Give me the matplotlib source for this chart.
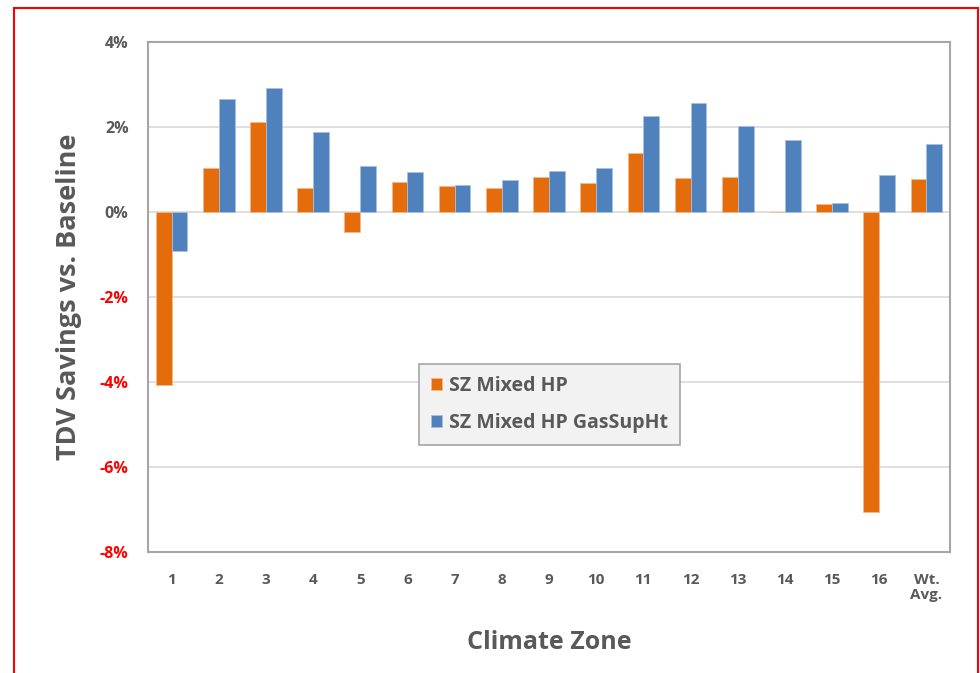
import matplotlib
matplotlib.use("Agg")
import matplotlib.pyplot as plt
from matplotlib.patches import Rectangle
import numpy as np

plt.rcParams['font.family'] = ['Open Sans', 'DejaVu Sans']

zones = ["1", "2", "3", "4", "5", "6", "7", "8", "9", "10", "11", "12",
         "13", "14", "15", "16", "Wt.\nAvg."]
mixed_hp = [-4.07, 1.04, 2.12, 0.57, -0.47, 0.71, 0.61, 0.57, 0.82, 0.68,
            1.38, 0.80, 0.83, 0.01, 0.19, -7.05, 0.77]
mixed_hp_gas = [-0.92, 2.66, 2.92, 1.88, 1.08, 0.94, 0.64, 0.76, 0.97, 1.03,
                2.27, 2.57, 2.02, 1.69, 0.22, 0.88, 1.61]
series_names = ["SZ Mixed HP", "SZ Mixed HP GasSupHt"]
yticks = [4, 2, 0, -2, -4, -6, -8]

gray_text = "#595959"
orange = "#E46C0A"
blue = "#4F81BD"

W, H = 980, 673
fig = plt.figure(figsize=(W / 100, H / 100), dpi=100)
ax = fig.add_axes([148 / W, (H - 552) / H, (950 - 148) / W, (552 - 42) / H])

x = np.arange(len(zones))
bw = 0.335
ax.bar(x - bw / 2, mixed_hp, bw, color=orange, edgecolor="#F5B888",
       linewidth=0.6, label=series_names[0], zorder=3)
ax.bar(x + bw / 2, mixed_hp_gas, bw, color=blue, edgecolor="#A9C1E0",
       linewidth=0.6, label=series_names[1], zorder=3)

ax.set_xlim(-0.5, len(zones) - 0.5)
ax.set_ylim(-8, 4)
ax.set_yticks(yticks)
ax.set_yticklabels([f"{v}%" for v in yticks])
for lbl, v in zip(ax.get_yticklabels(), yticks):
    lbl.set_color("#FF0000" if v < 0 else gray_text)
    lbl.set_fontweight("bold")
    lbl.set_fontsize(11.5)

ax.set_xticks(x)
ax.set_xticklabels(zones, fontsize=11, fontweight="bold", color=gray_text,
                   va="top", linespacing=1.15)
ax.tick_params(axis="both", length=0)
ax.tick_params(axis="y", pad=14)
ax.tick_params(axis="x", pad=15)

ax.grid(axis="y", color="#D9D9D9", linewidth=1.2, zorder=0)
ax.set_axisbelow(True)
for s in ax.spines.values():
    s.set_color("#A6A6A6")
    s.set_linewidth(1.5)

ax.set_ylabel("TDV Savings vs. Baseline", fontsize=19.5, fontweight="bold",
              color=gray_text, labelpad=13)
ax.set_xlabel("Climate Zone", fontsize=18, fontweight="bold",
              color=gray_text, labelpad=20)

leg = ax.legend(loc="upper left",
                bbox_to_anchor=((419 - 148) / (950 - 148), (552 - 364) / (552 - 42)),
                frameon=True, fancybox=False,
                prop={"weight": "bold", "size": 14, "family": ["Open Sans"]},
                handlelength=0.6, handleheight=0.6, handletextpad=0.35,
                labelspacing=0.9, borderpad=0.6, borderaxespad=0)
leg.get_frame().set_facecolor("#F2F2F2")
leg.get_frame().set_edgecolor("#A6A6A6")
leg.get_frame().set_linewidth(1.2)
leg.get_frame().set_alpha(1)
for t in leg.get_texts():
    t.set_color(gray_text)

# outer red frame
fig.patches.append(Rectangle((14 / W, -0.05), (978 - 14) / W, (H - 8) / H + 0.05,
                             transform=fig.transFigure, fill=False,
                             edgecolor="#FF0000", linewidth=1.5))

fig.savefig("out.png", dpi=100, facecolor="white")
